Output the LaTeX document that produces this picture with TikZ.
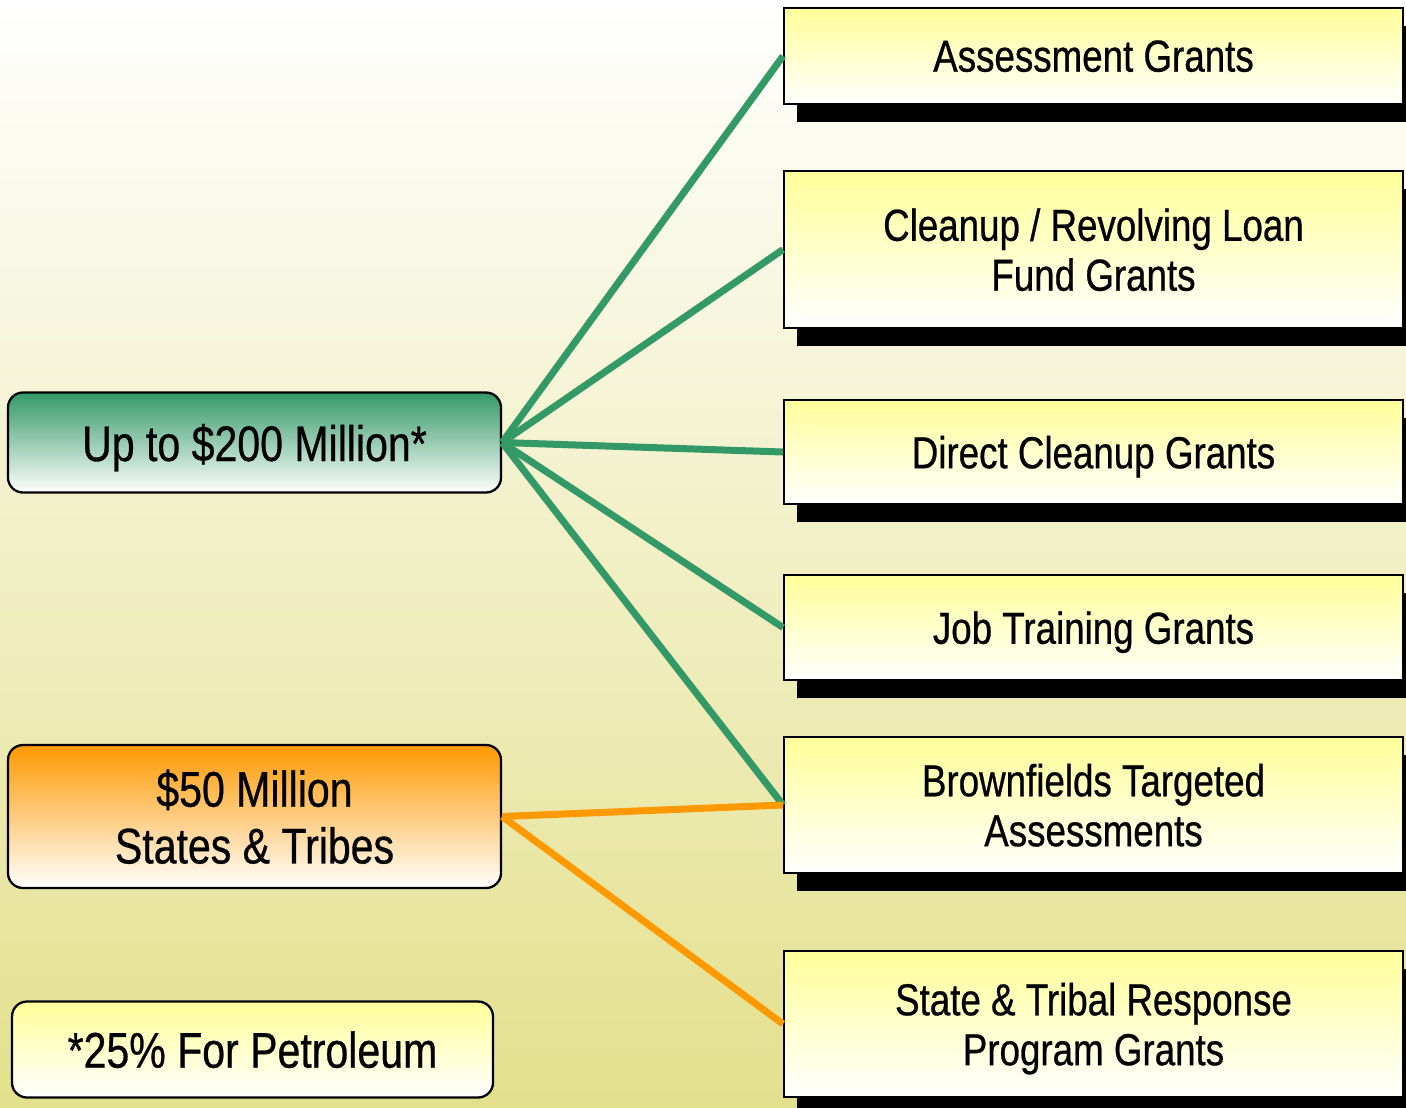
\documentclass[tikz,border=0pt]{standalone}
\usepackage{fontspec}
\setmainfont{Liberation Sans}[FakeStretch=0.82, FakeBold=0.6]
\usepackage{xcolor}
\usetikzlibrary{shadows}

\definecolor{grantgreen}{RGB}{51,153,102}
\definecolor{grantorange}{RGB}{255,153,0}
\definecolor{paleyellow}{RGB}{255,255,153}
\definecolor{bgolive}{RGB}{227,224,140}

\tikzset{
    grantbox/.style={draw=black, line width=1.1pt, inner sep=0pt, align=center,
        minimum width=619*0.02cm, top color=paleyellow, bottom color=white,
        text depth=0pt, font=\fontsize{25.5}{28.4}\selectfont,
        drop shadow={shadow xshift=0.26cm, shadow yshift=-0.36cm, opacity=1, fill=black}},
    fundbox/.style={draw=black, line width=1.3pt, rounded corners=0.3cm, inner sep=0pt,
        align=center, text depth=0pt, font=\fontsize{28.5}{32.3}\selectfont, bottom color=white},
    greenline/.style={grantgreen, line width=0.14cm},
    orangeline/.style={grantorange, line width=0.14cm}
}

\begin{document}
\begin{tikzpicture}[x=0.02cm, y=-0.02cm]
    \useasboundingbox (0,0) rectangle (1406,1107);
    \shade[top color=white, bottom color=bgolive] (0,0) rectangle (1406,1107);

    % grant types
    \node[grantbox, minimum height=96*0.02cm] (assess) at (1093.5,56) {Assessment Grants};
    \node[grantbox, minimum height=157*0.02cm] (cleanup) at (1093.5,249.5) {Cleanup / Revolving Loan\\Fund Grants};
    \node[grantbox, minimum height=104*0.02cm] (direct) at (1093.5,452) {Direct Cleanup Grants};
    \node[grantbox, minimum height=105*0.02cm] (job) at (1093.5,627.5) {Job Training Grants};
    \node[grantbox, minimum height=136*0.02cm] (btarget) at (1093.5,805) {Brownfields Targeted\\Assessments};
    \node[grantbox, minimum height=146*0.02cm] (state) at (1093.5,1024) {State \& Tribal Response\\Program Grants};

    % funding
    \node[fundbox, top color=grantgreen, minimum width=493*0.02cm, minimum height=100*0.02cm] (up) at (254.5,442.5) {Up to \$200 Million*};
    \node[fundbox, top color=grantorange, minimum width=493*0.02cm, minimum height=143*0.02cm] (fifty) at (254.5,816.5) {\$50 Million\\States \& Tribes};
    \node[fundbox, top color=paleyellow, minimum width=481*0.02cm, minimum height=96*0.02cm] (petrol) at (252.5,1049.5) {*25\% For Petroleum};

    \foreach \grant in {assess,cleanup,direct,job,btarget} {
        \draw[greenline] (up.east) -- (\grant.west);
    }
    \foreach \grant in {btarget,state} {
        \draw[orangeline] (fifty.east) -- (\grant.west);
    }
\end{tikzpicture}
\end{document}
